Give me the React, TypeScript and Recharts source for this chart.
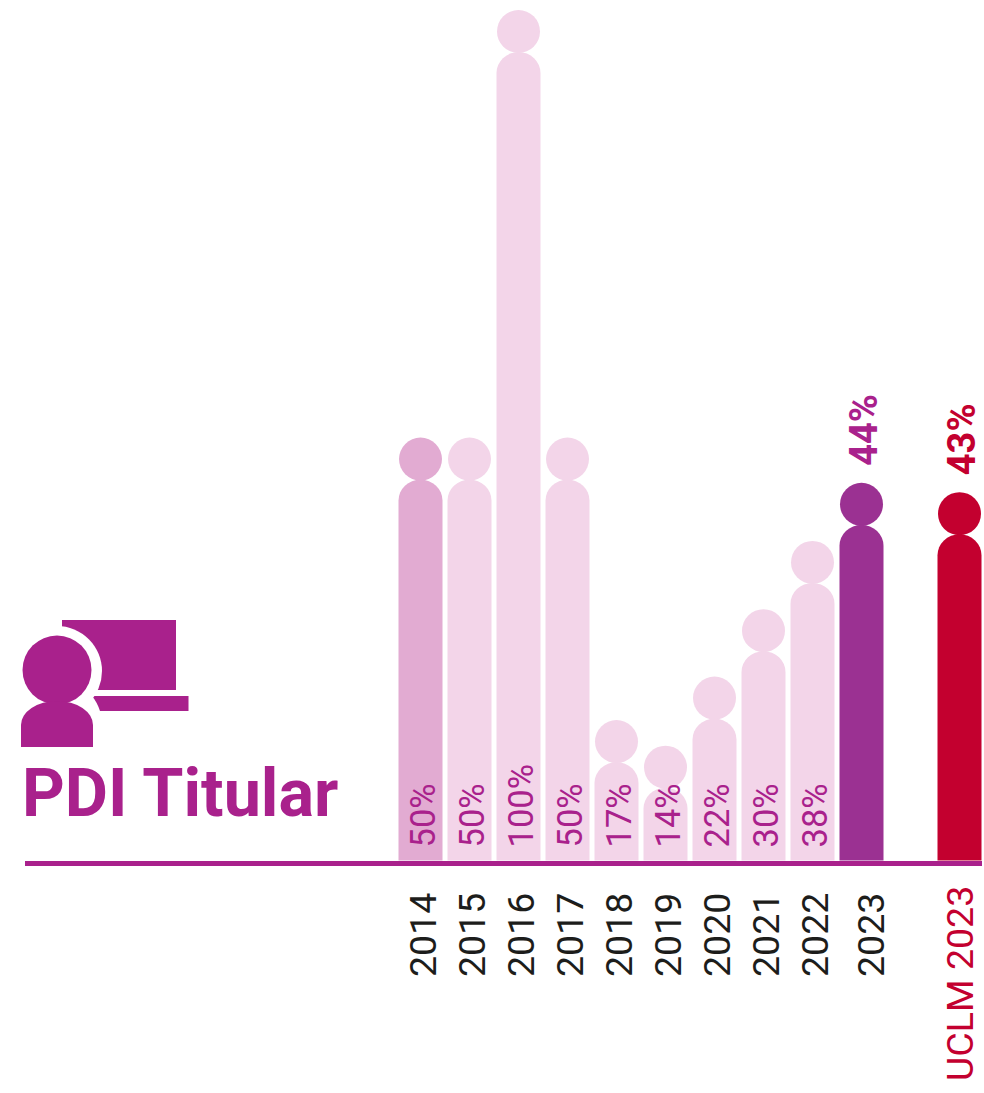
import { BarChart, Bar, XAxis, YAxis, LabelList } from "recharts";

const categories = ["2014", "2015", "2016", "2017", "2018", "2019", "2020", "2021", "2022", "2023", "", "UCLM 2023"];
const values = [49.9, 49.9, 100, 49.9, 16.8, 13.8, 21.9, 29.8, 37.8, 44.6, null, 43.5];
const labels = ["50%", "50%", "100%", "50%", "17%", "14%", "22%", "30%", "38%", "44%", "", "43%"];

const chartData = categories.map((year, i) => ({ year, value: values[i], label: labels[i] }));

const PURPLE = "#A9218C";
const RED = "#C3002F";

const barColor = (year: string) => {
  if (year === "2014") return "#E2ABD2";
  if (year === "2023") return "#9B3192";
  if (year === "UCLM 2023") return RED;
  return "#F3D5E9";
};

// bar drawn as a person: round head on top of a body with rounded shoulders
const PersonBar = (props: any) => {
  const { x, y, width, height, payload } = props;
  if (!height) return null;
  const fill = barColor(payload.year);
  const headR = 21.5;
  const rx = width / 2;
  const bodyTop = y + 42;
  const bottom = y + height - 3;
  return (
    <g>
      <circle cx={x + rx} cy={y + headR} r={headR} fill={fill} />
      <path
        d={`M${x} ${bottom} V${bodyTop + 21} A${rx} 21 0 0 1 ${x + width} ${bodyTop + 21} V${bottom} Z`}
        fill={fill}
      />
    </g>
  );
};

const ValueLabel = (props: any) => {
  const { x, y, width, height, value } = props;
  if (!value) return null;
  const outside = value === "44%" || value === "43%";
  const tx = x + width / 2 + 2;
  const ty = outside ? y - 17 : y + height - 16;
  return (
    <text
      x={tx}
      y={ty}
      dy="0.35em"
      transform={`rotate(-90 ${tx} ${ty})`}
      fontFamily="Roboto"
      fontSize={outside ? 38 : 34.5}
      fontWeight={outside ? 700 : 400}
      fill={value === "43%" ? RED : PURPLE}
    >
      {value}
    </text>
  );
};

const YearTick = (props: any) => {
  const { x, y, payload } = props;
  if (!payload.value) return null;
  const uclm = payload.value === "UCLM 2023";
  const tx = payload.value === "2023" ? x + 10 : uclm ? x + 1 : x + 3;
  const ty = y + (uclm ? 217.5 : 113.5);
  return (
    <text
      x={tx}
      y={ty}
      dy="0.35em"
      transform={`rotate(-90 ${tx} ${ty})`}
      fontFamily="Roboto"
      fontSize={37.5}
      fill={uclm ? RED : "#1D1D1B"}
    >
      {payload.value}
    </text>
  );
};

export default function App() {
  return (
    <div style={{ position: "absolute", left: 0, top: 0, width: 984, height: 1093, background: "#fff" }}>
      <BarChart
        width={984}
        height={1093}
        data={chartData}
        margin={{ top: 10, right: 2, left: 25, bottom: 0 }}
      >
        <XAxis
          dataKey="year"
          height={229.5}
          interval={0}
          padding={{ left: 370.5, right: -1.5 }}
          axisLine={{ stroke: PURPLE, strokeWidth: 5 }}
          tickLine={false}
          tickSize={0}
          tickMargin={0}
          tick={<YearTick />}
        />
        <YAxis hide domain={[0, 100]} />
        <Bar dataKey="value" barSize={44} shape={<PersonBar />} isAnimationActive={false}>
          <LabelList dataKey="label" content={<ValueLabel />} />
        </Bar>

        {/* icon and title */}
        <rect x={62} y={620} width={114} height={70} fill={PURPLE} />
        <path d="M92 696 H188.5 V711 H100 Q97 702 92 696 Z" fill={PURPLE} />
        <circle cx={57} cy={671} r={45} fill="#fff" />
        <circle cx={57} cy={670} r={34.5} fill={PURPLE} />
        <path d="M21 747 V725 A36 24 0 0 1 93 725 V747 Z" fill={PURPLE} />
        <text x={22} y={816} fontFamily="Roboto" fontWeight={700} fontSize={66.5} fill={PURPLE}>
          PDI Titular
        </text>
      </BarChart>
    </div>
  );
}
